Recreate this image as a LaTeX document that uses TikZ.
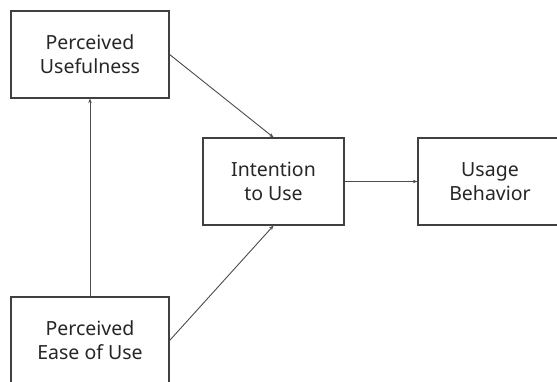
\documentclass[tikz,border=0pt]{standalone}
\usepackage{fontspec}
\setmainfont{Noto Sans}
\usetikzlibrary{arrows.meta}
\begin{document}
\begin{tikzpicture}[x=1pt,y=-1pt,
  box/.style={draw=black!75,line width=1.2pt,minimum width=158pt,minimum height=87pt,align=center,inner sep=0pt,font=\fontsize{19.5}{24}\selectfont,text=black!85},
  arr/.style={draw=black!70,line width=0.9pt,-{Stealth[length=4.5pt,width=3.5pt]}}]
\useasboundingbox (0,0) rectangle (557,382);
\clip (0,0) rectangle (557,382);
\fill[white] (0,0) rectangle (557,382);
\node[box] (pu) at (90,54.5) {Perceived\\Usefulness};
\node[box] (peou) at (90,340.5) {Perceived\\Ease of Use};
\node[box,minimum width=141pt] (itu) at (273.5,181.5) {Intention\\to Use};
\node[box,minimum width=144pt] (ub) at (490,181.5) {Usage\\Behavior};
\draw[arr] (peou.north) -- (pu.south);
\draw[arr] (pu.east) -- (itu.north);
\draw[arr] (peou.east) -- (itu.south);
\draw[arr] (itu.east) -- (ub.west);
\end{tikzpicture}
\end{document}
